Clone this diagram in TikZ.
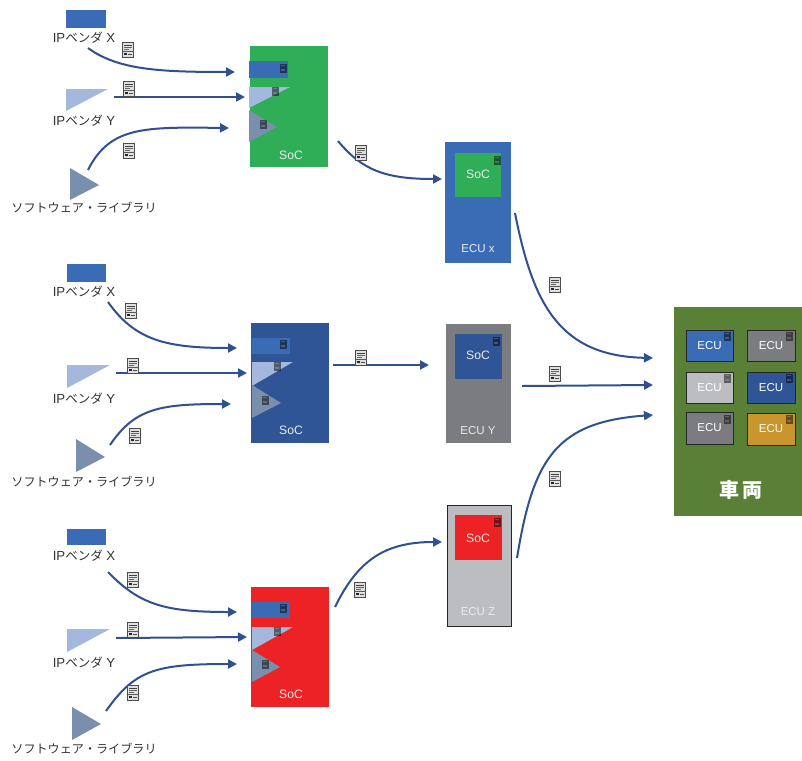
\documentclass[tikz,border=0pt]{standalone}
\usepackage{fontspec}
\setmainfont{Liberation Sans}
\newfontfamily\cjk{Noto Sans CJK JP}
\usetikzlibrary{arrows.meta}
\definecolor{ipblue}{HTML}{3A6BB5}
\definecolor{iplight}{HTML}{A3B8DC}
\definecolor{softgray}{HTML}{7A8FAE}
\definecolor{socgreen}{HTML}{2FAE57}
\definecolor{navy}{HTML}{2F5597}
\definecolor{socred}{HTML}{ED2224}
\definecolor{midgray}{HTML}{7B7C80}
\definecolor{ltgray}{HTML}{BCBDC0}
\definecolor{gold}{HTML}{C8952F}
\definecolor{vehgreen}{HTML}{5A8038}
\definecolor{arrowblue}{HTML}{2F5190}
\definecolor{labeltext}{HTML}{333333}
\tikzset{
  box/.style={inner sep=0pt,outer sep=0pt,draw=none,rectangle},
  ecubox/.style={box,draw=black!85,line width=.8pt,minimum width=47pt,minimum height=31pt,
    text=white,font=\fontsize{11.5}{13}\selectfont},
  flow/.style={draw=arrowblue,line width=2pt,-{Triangle[length=9pt,width=9pt]}},
  lbl/.style={inner sep=0pt,text=labeltext,font=\fontsize{13.2}{15}\selectfont},
  swlbl/.style={inner sep=0pt,text=labeltext,font=\cjk\fontsize{12.1}{14}\selectfont},
  wlbl/.style={inner sep=0pt,text=white!92!black,font=\fontsize{11.5}{13}\selectfont},
  soclbl/.style={inner sep=0pt,text=white!92!black,font=\fontsize{12.2}{14}\selectfont},
  docicon/.pic={
    \draw[fill=black!12,draw=black!70,line width=1.3pt] (-5.5,-7.5) rectangle (5.5,7.5);
    \fill[black!75] (-3.8,-5.2) rectangle (3.8,-3.9);
    \fill[black!60] (-3.8,-2.9) rectangle (3.8,-1.8);
    \fill[black!60] (-3.8,-.8) rectangle (1,.2);
    \fill[black!65] (-5.5,1.3) rectangle (5.5,2);
    \fill[black!85] (-3.8,3) rectangle (-1.2,5.2);
    \fill[black!70] (.2,3.6) rectangle (3.8,4.6);
  },
  minidoc/.pic={
    \fill[black,opacity=.5] (-3.5,-4.5) rectangle (3.5,4.5);
    \fill[white,opacity=.2] (-2.2,-2.8) rectangle (2.2,-1.8);
    \fill[white,opacity=.2] (-2.2,.5) rectangle (2.2,2.6);
  },
}
\begin{document}
\begin{tikzpicture}[x=1pt,y=-1pt]
\useasboundingbox (0,0) rectangle (802,760);
\fill[white] (0,0) rectangle (802,760);

% ---------- row 1
\node[box,fill=ipblue,minimum width=40pt,minimum height=18pt] (ipx1) at (86,19) {};
\node[lbl] (ipxl1) at (84,38) {IP{\cjk\fontsize{12.5}{15}\selectfont ベンダ} X};
\fill[iplight] (66,89) -- (108,89) -- (66,111) -- cycle;
\node[lbl] (ipyl1) at (84,121) {IP{\cjk\fontsize{12.5}{15}\selectfont ベンダ} Y};
\fill[softgray] (70,168) -- (99,185) -- (70,200) -- cycle;
\node[swlbl] (swl1) at (84,208) {ソフトウェア・ライブラリ};
\node[box,fill=socgreen,minimum width=78pt,minimum height=121pt] (soc1) at (289,106.5) {};
\node[box,fill=ipblue,minimum width=39pt,minimum height=17pt] (soc1a) at (268.5,69.5) {};
\fill[iplight] (249,87) -- (290,87) -- (249,108) -- cycle;
\fill[softgray] (249,110) -- (277,127) -- (249,142) -- cycle;
\node[soclbl] (soc1t) at (291,155) {SoC};
\pic at (283,68) {minidoc};
\pic at (275,91) {minidoc};
\pic at (263,124) {minidoc};
\coordinate (a1s) at (88,48);   \coordinate (a1e) at (235,72);
\coordinate (b1s) at (114,97);  \coordinate (b1e) at (245,97);
\coordinate (c1s) at (88,170);  \coordinate (c1e) at (229,128);
\draw[flow] (a1s) .. controls (118,70) and (160,72) .. (a1e);
\draw[flow] (b1s) -- (b1e);
\draw[flow] (c1s) .. controls (110,126) and (145,127) .. (c1e);
\pic at (128,50) {docicon};
\pic at (129,89) {docicon};
\pic at (129,151) {docicon};

% ---------- row 2
\node[box,fill=ipblue,minimum width=39pt,minimum height=18pt] (ipx2) at (86.5,273) {};
\node[lbl] (ipxl2) at (84,292) {IP{\cjk\fontsize{12.5}{15}\selectfont ベンダ} X};
\fill[iplight] (67,365) -- (110,365) -- (67,388) -- cycle;
\node[lbl] (ipyl2) at (84,399) {IP{\cjk\fontsize{12.5}{15}\selectfont ベンダ} Y};
\fill[softgray] (76,439) -- (105,457) -- (76,472) -- cycle;
\node[swlbl] (swl2) at (84,482) {ソフトウェア・ライブラリ};
\node[box,fill=navy,minimum width=78pt,minimum height=120pt] (soc2) at (290,383) {};
\node[box,fill=ipblue,minimum width=38pt,minimum height=16pt] (soc2a) at (271,346) {};
\fill[iplight] (252,362) -- (293,362) -- (252,386) -- cycle;
\fill[softgray] (252,385) -- (281,403) -- (252,418) -- cycle;
\node[soclbl] (soc2t) at (291,430) {SoC};
\pic at (283,344) {minidoc};
\pic at (277,366) {minidoc};
\pic at (265,400) {minidoc};
\coordinate (a2s) at (108,302); \coordinate (a2e) at (237,348);
\coordinate (b2s) at (116,373); \coordinate (b2e) at (247,373);
\coordinate (c2s) at (110,445); \coordinate (c2e) at (231,404);
\draw[flow] (a2s) .. controls (135,340) and (165,348) .. (a2e);
\draw[flow] (b2s) -- (b2e);
\draw[flow] (c2s) .. controls (135,408) and (160,404) .. (c2e);
\pic at (131,311) {docicon};
\pic at (133,366) {docicon};
\pic at (135,436) {docicon};

% ---------- row 3
\node[box,fill=ipblue,minimum width=39pt,minimum height=16pt] (ipx3) at (86.5,537) {};
\node[lbl] (ipxl3) at (84,556) {IP{\cjk\fontsize{12.5}{15}\selectfont ベンダ} X};
\fill[iplight] (67,629) -- (110,629) -- (67,652) -- cycle;
\node[lbl] (ipyl3) at (84,663) {IP{\cjk\fontsize{12.5}{15}\selectfont ベンダ} Y};
\fill[softgray] (72,707) -- (101,724) -- (72,740) -- cycle;
\node[swlbl] (swl3) at (84,749) {ソフトウェア・ライブラリ};
\node[box,fill=socred,minimum width=78pt,minimum height=120pt] (soc3) at (290,647) {};
\node[box,fill=ipblue,minimum width=38pt,minimum height=16pt] (soc3a) at (271,610) {};
\fill[iplight] (252,627) -- (293,627) -- (252,650) -- cycle;
\fill[softgray] (252,650) -- (280,667) -- (252,682) -- cycle;
\node[soclbl] (soc3t) at (291,694) {SoC};
\pic at (283,608) {minidoc};
\pic at (277,631) {minidoc};
\pic at (265,664) {minidoc};
\coordinate (a3s) at (108,572); \coordinate (a3e) at (237,612);
\coordinate (b3s) at (116,638); \coordinate (b3e) at (247,637);
\coordinate (c3s) at (106,711); \coordinate (c3e) at (237,664);
\draw[flow] (a3s) .. controls (140,605) and (165,612) .. (a3e);
\draw[flow] (b3s) -- (b3e);
\draw[flow] (c3s) .. controls (135,670) and (155,664) .. (c3e);
\pic at (133,580) {docicon};
\pic at (133,630) {docicon};
\pic at (133,693) {docicon};

% ---------- ECUs
\node[box,fill=ipblue,minimum width=66pt,minimum height=121pt] (ecux) at (478,202.5) {};
\node[box,fill=socgreen,minimum width=46pt,minimum height=44pt] (ecuxs) at (478,175) {};
\node[soclbl] (ecuxst) at (478,174) {SoC};
\node[wlbl] (ecuxt) at (478,249) {ECU x};
\pic at (497,160) {minidoc};

\node[box,fill=midgray,minimum width=65pt,minimum height=119pt] (ecuy) at (478.5,383.5) {};
\node[box,fill=navy,minimum width=47pt,minimum height=45pt] (ecuys) at (478.5,356.5) {};
\node[soclbl] (ecuyst) at (478,355) {SoC};
\node[wlbl] (ecuyt) at (478,431) {ECU Y};
\pic at (496,341) {minidoc};

\node[box,draw=black!85,line width=.8pt,fill=ltgray,minimum width=64pt,minimum height=121pt] (ecuz) at (479,565.5) {};
\node[box,fill=socred,minimum width=47pt,minimum height=45pt] (ecuzs) at (478.5,537.5) {};
\node[soclbl] (ecuzst) at (478,538) {SoC};
\node[wlbl] (ecuzt) at (478,612) {ECU Z};
\pic at (497,522) {minidoc};

% ---------- SoC to ECU
\coordinate (d1s) at (338,141); \coordinate (d1e) at (442,179);
\coordinate (d2s) at (333,365); \coordinate (d2e) at (429,365);
\coordinate (d3s) at (335,607); \coordinate (d3e) at (442,542);
\draw[flow] (d1s) .. controls (362,170) and (385,179) .. (d1e);
\draw[flow] (d2s) -- (d2e);
\draw[flow] (d3s) .. controls (358,560) and (385,542) .. (d3e);
\pic at (361,153) {docicon};
\pic at (361,358) {docicon};
\pic at (360,590) {docicon};

% ---------- vehicle
\node[box,fill=vehgreen,minimum width=128pt,minimum height=209pt] (veh) at (738,411.5) {};
\node[ecubox,fill=ipblue] (v1) at (709.5,345.5) {ECU};
\node[ecubox,fill=midgray,minimum width=48pt] (v2) at (771,345.5) {ECU};
\node[ecubox,fill=ltgray] (v3) at (709.5,387.5) {ECU};
\node[ecubox,fill=navy,minimum width=48pt] (v4) at (771,387.5) {ECU};
\node[ecubox,fill=midgray,minimum height=32pt] (v5) at (709.5,428) {ECU};
\node[ecubox,fill=gold,minimum width=48pt,minimum height=32pt] (v6) at (771,429) {ECU};
\pic at (727,336) {minidoc};
\pic at (789,336) {minidoc};
\pic at (727,378) {minidoc};
\pic at (789,378) {minidoc};
\pic at (727,419) {minidoc};
\pic at (789,419) {minidoc};
\node[inner sep=0pt,text=white,font=\cjk\bfseries\fontsize{20}{22}\selectfont] (vehl) at (741,490) {車\kern2.5pt 両};

% ---------- ECU to vehicle
\coordinate (e1s) at (515,213); \coordinate (e1e) at (653,358);
\coordinate (e2s) at (522,386); \coordinate (e2e) at (653,385);
\coordinate (e3s) at (517,558); \coordinate (e3e) at (653,415);
\draw[flow] (e1s) .. controls (533,305) and (560,356) .. (e1e);
\draw[flow] (e2s) -- (e2e);
\draw[flow] (e3s) .. controls (533,460) and (555,422) .. (e3e);
\pic at (555,285) {docicon};
\pic at (555,374) {docicon};
\pic at (555,479) {docicon};
\end{tikzpicture}
\end{document}
